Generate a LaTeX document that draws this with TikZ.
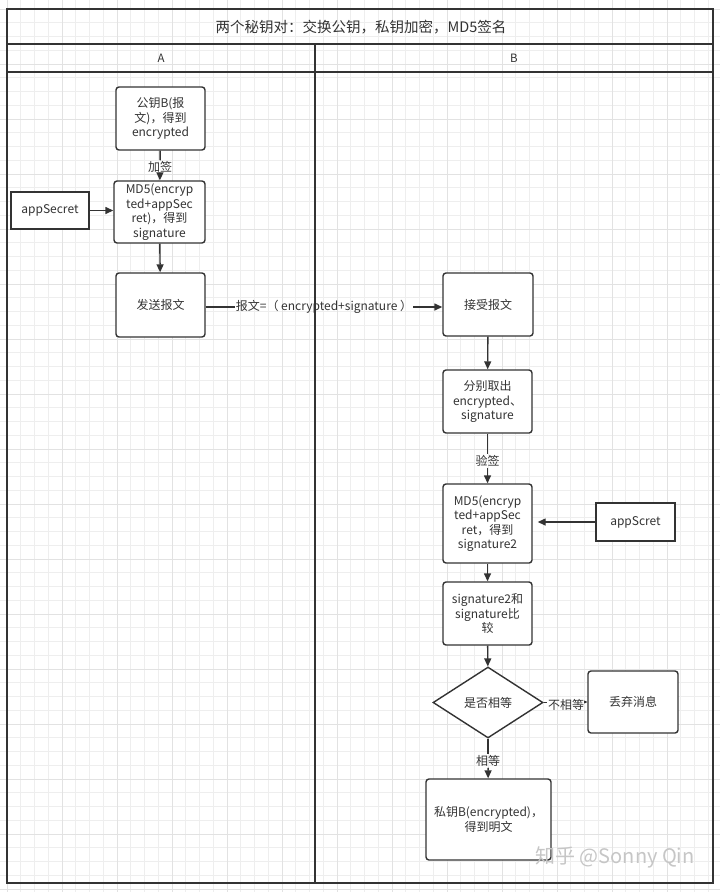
\documentclass[tikz,border=0pt]{standalone}
\usepackage{fontspec}
\setmainfont{Noto Sans CJK SC}
\usetikzlibrary{arrows.meta,shapes.geometric}
\definecolor{ln}{HTML}{333333}
\definecolor{gminor}{HTML}{EEEEEE}
\definecolor{gmajor}{HTML}{E2E2E2}
\tikzset{
  box/.style={draw=ln, line width=1.4pt, rounded corners=3pt, fill=white, align=center,
    font=\fontsize{12}{14.5}\selectfont, text=ln, inner sep=2pt},
  sbox/.style={draw=ln, line width=1.4pt, fill=white, align=center,
    font=\fontsize{12}{14.5}\selectfont, text=ln, inner sep=2pt},
  dia/.style={draw=ln, line width=1.4pt, fill=white, shape=diamond, aspect=1.55, inner sep=0pt,
    font=\fontsize{12}{14.5}\selectfont, text=ln},
  lbl/.style={font=\fontsize{12}{14.5}\selectfont, text=ln, inner sep=1pt},
  con/.style={draw=ln, line width=1.4pt},
  arr/.style={draw=ln, line width=1.4pt, -{Triangle[length=8pt,width=7pt]}},
  frame/.style={draw=ln, line width=1.6pt},
}
\begin{document}
\begin{tikzpicture}[x=1pt,y=-1pt]
\useasboundingbox (0,0) rectangle (720,892);
\fill[white] (0,0) rectangle (720,892);
% grid
\foreach \i in {0,...,52} {
  \draw[gminor, line width=0.8pt] ({7+\i*13.75},0) -- ({7+\i*13.75},892);
}
\foreach \i in {-1,...,64} {
  \draw[gminor, line width=0.8pt] (0,{9+\i*13.75}) -- (720,{9+\i*13.75});
}
\foreach \i in {0,...,13} {
  \draw[gmajor, line width=1pt] ({7+\i*55},0) -- ({7+\i*55},892);
}
\foreach \i in {0,...,16} {
  \draw[gmajor, line width=1pt] (0,{9+\i*55}) -- (720,{9+\i*55});
}
% swimlane frame
\coordinate (tl) at (7,9);
\coordinate (br) at (713,883);
\draw[frame] (tl) rectangle (br);
\draw[frame] (7,44) -- (713,44);
\draw[frame] (7,72) -- (713,72);
\draw[frame] (315,44) -- (315,883);
\node[font=\fontsize{14.5}{16}\selectfont, text=ln] (title) at (361,27) {两个秘钥对：交换公钥，私钥加密，MD5签名};
\node[font=\fontsize{11.5}{13}\selectfont, text=ln] (hA) at (161,58) {A};
\node[font=\fontsize{11.5}{13}\selectfont, text=ln] (hB) at (514,58) {B};

% lane A
\node[box, minimum width=89pt, minimum height=63pt] (b1) at (160.5,118.5) {公钥B(报\\文)，得到\\encrypted};
\node[box, minimum width=91pt, minimum height=62pt] (b2) at (159.5,212) {MD5(encryp\\ted+appSec\\ret)，得到\\signature};
\node[sbox, minimum width=78pt, minimum height=37pt] (as) at (50,210.5) {appSecret};
\node[box, minimum width=89pt, minimum height=64pt] (b3) at (160.5,305) {发送报文};

% lane B
\node[box, minimum width=90pt, minimum height=63pt] (recv) at (488,304.5) {接受报文};
\node[box, minimum width=89pt, minimum height=63pt] (split) at (487.5,401.5) {分别取出\\encrypted、\\signature};
\node[box, minimum width=89pt, minimum height=79pt] (md5b) at (487.5,523.5) {MD5(encryp\\ted+appSec\\ret，得到\\signature2};
\node[sbox, minimum width=79pt, minimum height=38pt] (asc) at (635.5,522) {appScret};
\node[box, minimum width=89pt, minimum height=63pt] (cmp) at (487.5,613.5) {signature2和\\signature比\\较};
\node[dia, minimum width=110pt, minimum height=71pt] (eq) at (488,702.5) {是否相等};
\node[box, minimum width=90pt, minimum height=62pt] (disc) at (633,702) {丢弃消息};
\node[box, minimum width=125pt, minimum height=81pt] (fin) at (488.5,819.5) {私钥B(encrypted)，\\得到明文};

% labels
\node[lbl] (l1) at (160,167) {加签};
\node[lbl] (lsend) at (324,307) {报文=（ encrypted+signature ）};
\node[lbl] (l2) at (487.5,461) {验签};
\node[lbl] (lne) at (566,705) {不相等};
\node[lbl] (leq) at (488,761) {相等};

% connectors
\draw[con] (b1) -- (l1);
\draw[arr] (l1) -- (b2);
\draw[arr] (as) -- (as -| b2.west);
\draw[arr] (b2) -- (b3);
\draw[con] (b3.east |- lsend) -- (lsend);
\draw[arr] (lsend) -- (lsend -| recv.west);
\draw[arr] (recv) -- (split);
\draw[con] (split) -- (l2);
\draw[arr] (l2) -- (md5b);
\draw[arr, shorten >=5pt] (asc) -- (asc -| md5b.east);
\draw[arr] (md5b) -- (cmp);
\draw[arr] (cmp) -- (eq);
\draw[con] (eq.east) -- (eq.east -| lne.west);
\draw[arr, -{Triangle[length=3pt,width=3pt]}] (lne.east |- disc.west) -- (disc.west);
\draw[con] (eq.south) -- (leq);
\draw[arr] (leq) -- (fin);

% watermark
\node[font=\fontsize{20}{22}\selectfont, text=gray!45] (wm) at (615,857) {知乎 @Sonny Qin};
\end{tikzpicture}
\end{document}
